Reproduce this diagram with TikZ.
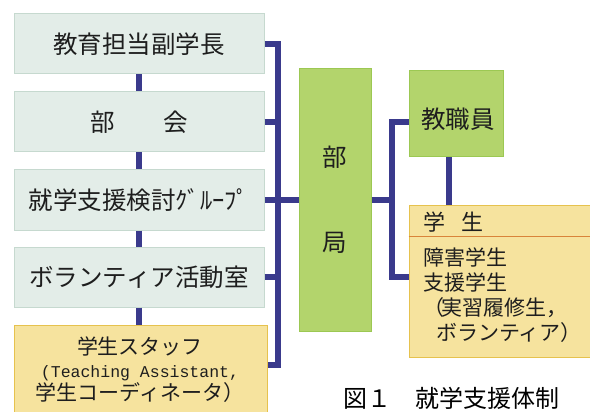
\documentclass[tikz,border=0pt]{standalone}
\usepackage{fontspec}
\setmainfont{Noto Sans CJK JP}
\newfontfamily\latinmono{Liberation Mono}
\definecolor{boxg}{HTML}{E3EDE8}
\definecolor{boxgedge}{HTML}{C6D9CF}
\definecolor{boxy}{HTML}{F6E39E}
\definecolor{boxyedge}{HTML}{E6C24E}
\definecolor{boxgr}{HTML}{B3D46C}
\definecolor{boxgredge}{HTML}{9CC853}
\definecolor{conncol}{HTML}{3A3A8C}
\definecolor{sepcol}{HTML}{D9843A}
\definecolor{txt}{HTML}{1E1E1E}
\begin{document}
\begin{tikzpicture}[x=1pt,y=-1pt,
  lbox/.style={rectangle,fill=boxg,draw=boxgedge,line width=1pt,minimum width=250pt,minimum height=60pt,inner sep=0pt,text=txt,font=\fontsize{24.5}{26}\selectfont},
  ybox/.style={rectangle,fill=boxy,draw=boxyedge,line width=1pt,inner sep=0pt},
  gbox/.style={rectangle,fill=boxgr,draw=boxgredge,line width=1pt,inner sep=0pt},
  lbl/.style={inner sep=0pt,text=txt},
  conn/.style={draw=conncol,line width=5.5pt,line join=miter,line cap=butt},
  sepline/.style={draw=sepcol,line width=1.2pt}]
\useasboundingbox (0,0) rectangle (590,412);
\fill[white] (0,0) rectangle (590,412);
% left column
\node[lbox] (b1) at (139,44) {教育担当副学長};
\node[lbox] (b2) at (139,122) {部　　会};
\node[lbox] (b3) at (139,200) {就学支援検討ｸﾞﾙｰﾌﾟ};
\node[lbox] (b4) at (139,277) {ボランティア活動室};
\node[ybox,minimum width=253pt,minimum height=92pt] (b5) at (140.5,371) {};
\node[lbl,align=center,font=\fontsize{21}{23}\selectfont] (b5t) at (140,370)
  {学生スタッフ\\{\latinmono\fontsize{16.5}{23}\selectfont (Teaching Assistant,}\\学生コーディネータ）};
% centre
\node[gbox,minimum width=72pt,minimum height=263pt] (bk) at (335,200) {};
\node[lbl,font=\fontsize{24.5}{26}\selectfont] (bk1) at (335,157) {部};
\node[lbl,font=\fontsize{24.5}{26}\selectfont] (bk2) at (335,243) {局};
% right
\node[gbox,minimum width=94pt,minimum height=86pt] (kyo) at (456,114) {};
\node[lbl,font=\fontsize{24.5}{26}\selectfont] (kyot) at (458,119) {教職員};
\node[ybox,minimum width=183pt,minimum height=152pt] (gak) at (500.5,281) {};
\node[lbl,anchor=west,font=\fontsize{22}{24}\selectfont] (gakt) at (423,222) {学\hspace{16pt}生};
\node[lbl,anchor=north west,align=left,font=\fontsize{21}{25}\selectfont] (gakb) at (423,248)
  {障害学生\\支援学生\\（\hspace{-3pt}実習履修生，\\\hspace{13pt}ボランティア）};
\draw[sepline] ([yshift=-32pt]gak.north west) -- ([yshift=-32pt]gak.north east);
% caption
\node[lbl,font=\fontsize{24}{26}\selectfont,text=black] (cap) at (451.5,398) {図１　就学支援体制};
% connectors left
\draw[conn] (b1.south) -- (b2.north);
\draw[conn] (b2.south) -- (b3.north);
\draw[conn] (b3.south) -- (b4.north);
\draw[conn] (b4.south) -- (b5.north -| b4.south);
\coordinate (busT) at (278,44);
\coordinate (busB) at (278,365);
\draw[conn] (b1.east) -- (busT) -- (busB) -- (b5.east |- busB);
\draw[conn] (b2.east) -- (b2.east -| busT);
\draw[conn] (b4.east) -- (b4.east -| busT);
\draw[conn] (b3.east) -- (bk.west);
% connectors right
\coordinate (jn) at (392,200);
\coordinate (kyoIn) at ([yshift=-8pt]kyo.west);
\coordinate (gakIn) at ([yshift=4pt]gak.west);
\draw[conn] (bk.east) -- (jn);
\draw[conn] (kyoIn) -| (jn |- gakIn) -- (gakIn);
\coordinate (kv) at ([xshift=-7pt]kyo.south);
\draw[conn] (kv) -- (kv |- gak.north);
\end{tikzpicture}
\end{document}
